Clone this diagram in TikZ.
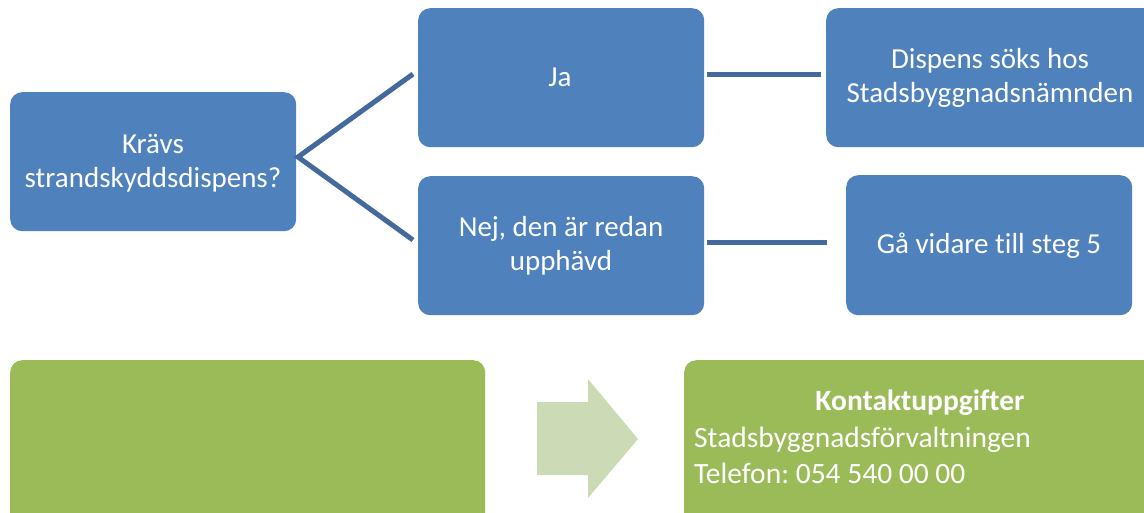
\documentclass[tikz,border=0pt]{standalone}
\usepackage{fontspec}
\setmainfont{Carlito}[Ligatures=NoCommon]
\definecolor{boxblue}{HTML}{4F81BD}
\definecolor{lineblue}{HTML}{44699C}
\definecolor{boxgreen}{HTML}{9BBB59}
\definecolor{arrowgreen}{HTML}{CDDAB6}
\tikzset{
  bluebox/.style={fill=boxblue, draw=none, rounded corners=12pt},
  greenbox/.style={fill=boxgreen, draw=none, rounded corners=12pt},
  conn/.style={draw=lineblue, line width=5pt},
  boxtext/.style={text=white, font=\fontsize{29}{33.7}\selectfont, align=center, inner sep=0pt, anchor=base},
  greentext/.style={text=white, font=\fontsize{29.5}{36}\selectfont, anchor=base west, inner sep=0pt}
}
\begin{document}
\frenchspacing
\begin{tikzpicture}[x=1pt,y=-1pt]
\useasboundingbox (0,0) rectangle (1144,512);
\clip (0,0) rectangle (1144,512);
% blue boxes
\node[bluebox, minimum width=286pt, minimum height=139pt, anchor=north west] (q) at (10,92) {};
\node[bluebox, minimum width=286pt, minimum height=139pt, anchor=north west] (ja) at (418,8) {};
\node[bluebox, minimum width=286pt, minimum height=139pt, anchor=north west] (nej) at (418,176) {};
\node[bluebox, minimum width=330pt, minimum height=139pt, anchor=north west] (disp) at (826,8) {};
\node[bluebox, minimum width=286pt, minimum height=140pt, anchor=north west] (ga) at (846,175) {};
% texts (base anchor = last line baseline)
\node[boxtext] (qt) at (153,187) {Krävs\\strandskyddsdispens?};
\node[boxtext] (jat) at (560,86) {Ja};
\node[boxtext] (nejt) at (561,270) {Nej, den är redan\\upphävd};
\node[boxtext] (dispt) at (990,102) {Dispens söks hos\\Stadsbyggnadsnämnden};
\node[boxtext] (gat) at (989,253) {Gå vidare till steg 5};
% connectors
\coordinate (qe) at (298,157);
\coordinate (jaw) at (413,74);
\coordinate (nejw) at (413,240);
\draw[conn] (jaw) -- (qe) -- (nejw);
\coordinate (jae) at (707,74);
\coordinate (dispw) at (821,74);
\draw[conn] (jae) -- (dispw);
\coordinate (neje) at (707,242);
\coordinate (gaw) at (827,242);
\draw[conn] (neje) -- (gaw);
% green boxes
\node[greenbox, minimum width=475pt, minimum height=180pt, anchor=north west] (g1) at (10,360) {};
\node[greenbox, minimum width=480pt, minimum height=180pt, anchor=north west] (g2) at (684,360) {};
% arrow
\fill[arrowgreen] (537,402) -- (588,402) -- (588,379) -- (638,439) -- (588,498) -- (588,475) -- (537,475) -- cycle;
% contact texts
\node[text=white, font=\fontsize{29.5}{36}\selectfont\bfseries, inner sep=0pt, anchor=base] (kt) at (920,410) {Kontaktuppgifter};
\node[greentext] (st) at (694,447) {Stadsbyggnadsförvaltningen};
\node[greentext] (tel) at (694,483) {Telefon: 054 540 00 00};
\end{tikzpicture}
\end{document}
